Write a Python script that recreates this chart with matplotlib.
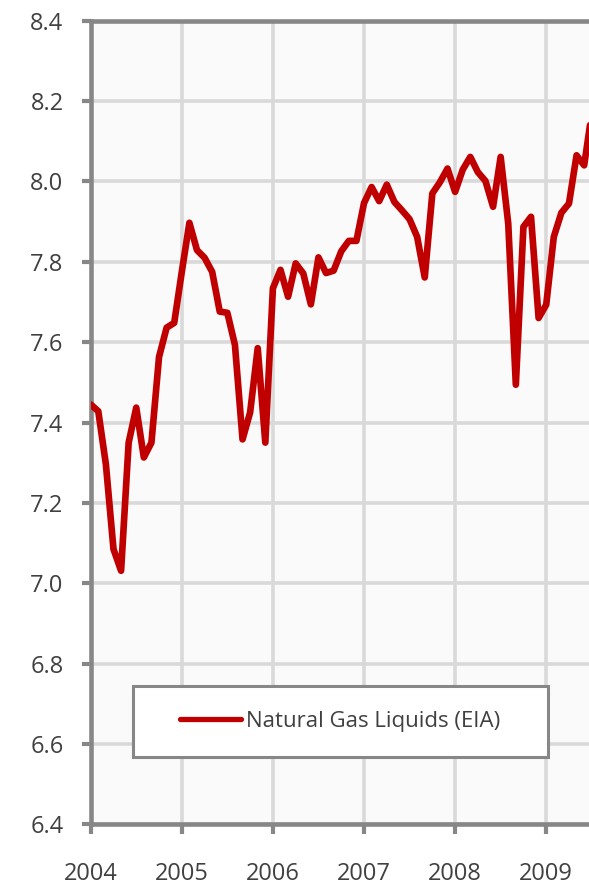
import numpy as np
import matplotlib
matplotlib.use("Agg")
import matplotlib.pyplot as plt
from matplotlib.patches import Rectangle

plt.rcParams['font.family'] = ['Open Sans', 'DejaVu Sans']

# Monthly Natural Gas Liquids (EIA), Jan 2004 onward
start_year = 2004
ngl = [7.445, 7.428, 7.296, 7.085, 7.031, 7.350, 7.437, 7.313, 7.350, 7.563, 7.636, 7.648,
       7.775, 7.897, 7.829, 7.810, 7.775, 7.676, 7.673, 7.593, 7.358, 7.425, 7.585, 7.350,
       7.734, 7.780, 7.713, 7.796, 7.771, 7.694, 7.811, 7.772, 7.778, 7.826, 7.852, 7.852,
       7.946, 7.986, 7.951, 7.992, 7.949, 7.928, 7.906, 7.862, 7.761, 7.970, 7.998, 8.032,
       7.974, 8.029, 8.061, 8.023, 8.001, 7.937, 8.061, 7.895, 7.494, 7.887, 7.912, 7.660,
       7.693, 7.862, 7.922, 7.945, 8.065, 8.040, 8.170]
series_label = "Natural Gas Liquids (EIA)"
year_ticks = [2004, 2005, 2006, 2007, 2008, 2009]
y_ticks = [6.4, 6.6, 6.8, 7.0, 7.2, 7.4, 7.6, 7.8, 8.0, 8.2, 8.4]

x = start_year + np.arange(len(ngl)) / 12.0

fig = plt.figure(figsize=(5.89, 8.85), dpi=100)
ax = fig.add_axes([90.7 / 589, 60.7 / 885, 1 - 90.7 / 589, 803.6 / 885])
ax.set_facecolor('#fafafa')

red = '#c00000'
gray = '#878787'
text_col = '#404040'

ax.plot(x, ngl, color=red, lw=4.8, solid_joinstyle='round', solid_capstyle='round',
        label=series_label, zorder=3)

ax.set_xlim(2004, 2004 + (589 - 90.7) / 91.1)
ax.set_ylim(6.4, 8.4)
ax.set_xticks(year_ticks)
ax.set_xticklabels([str(y) for y in year_ticks])
ax.set_yticks(y_ticks)
ax.set_yticklabels([f"{v:.1f}" for v in y_ticks])

ax.grid(True, color='#d9d9d9', lw=2.6, zorder=0)
ax.set_axisbelow(True)

for side in ['left', 'bottom', 'top']:
    ax.spines[side].set_color(gray)
    ax.spines[side].set_linewidth(3.3)
ax.spines['right'].set_visible(False)

ax.tick_params(axis='y', direction='out', length=6.5, width=3, color=gray,
               pad=13, labelsize=17, labelcolor=text_col)
ax.tick_params(axis='x', direction='out', length=7.5, width=3, color=gray,
               pad=20, labelsize=17, labelcolor=text_col)

# legend box
bx0 = (133 - 90.7) / 498.3
bw = 415 / 498.3
by0 = (824.3 - 757) / 803.6
bh = 71 / 803.6
ax.add_patch(Rectangle((bx0, by0), bw, bh, transform=ax.transAxes,
                       facecolor='white', edgecolor=gray, lw=2.2, zorder=5))
leg = ax.legend(loc='center left', bbox_to_anchor=((182 - 90.7) / 498.3 - 0.005, by0 + bh / 2),
                frameon=False, fontsize=16, handlelength=2.75, handletextpad=0.25,
                borderpad=0, borderaxespad=0)
leg.set_zorder(6)
for t in leg.get_texts():
    t.set_color(text_col)
for ln in leg.get_lines():
    ln.set_linewidth(3.8)

fig.savefig('out.png', dpi=100)
